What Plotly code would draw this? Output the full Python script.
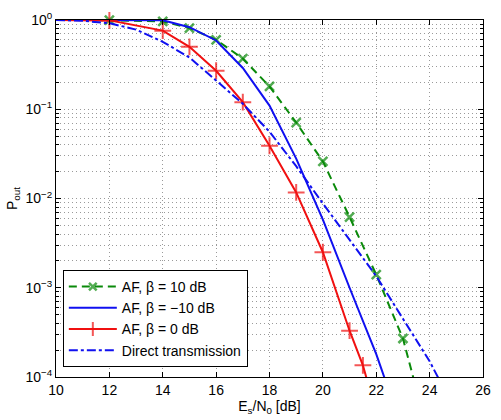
import plotly.graph_objects as go

# ---- data ----
x_af = [10, 12, 14, 15, 16, 17, 18, 19, 20, 21, 22, 23, 24]
p_af_b10 = [1.0, 0.995, 0.965, 0.81, 0.60, 0.37, 0.18, 0.071, 0.026, 0.0062, 0.0014, 2.7e-4, 2.0e-5]
p_af_bm10 = [1.0, 1.0, 0.995, 0.83, 0.59, 0.29, 0.11, 0.028, 0.0058, 0.001, 1.8e-4, 2.5e-5, 3e-6]

x_af0 = [10, 12, 14, 15, 16, 17, 18, 19, 20, 21, 21.5, 22]
p_af_b0 = [1.0, 0.99, 0.76, 0.50, 0.27, 0.12, 0.039, 0.0117, 0.0025, 3.3e-4, 1.35e-4, 4e-5]

x_direct = [10, 11, 12, 13, 14, 15, 16, 17, 18, 19, 20, 21, 22, 23, 24, 25]
p_direct = [1.0, 0.98, 0.92, 0.78, 0.57, 0.38, 0.21, 0.115, 0.056, 0.023, 0.0088,
            0.0035, 0.00135, 4.5e-4, 1.5e-4, 4e-5]

x_ticks = [10, 12, 14, 16, 18, 20, 22, 24, 26]
y_ticks = [1e-4, 1e-3, 1e-2, 1e-1, 1]
y_ticktext = ["10<sup>−4</sup>", "10<sup>−3</sup>", "10<sup>−2</sup>", "10<sup>−1</sup>", "10<sup>0</sup>"]
y_minor = [m * 10 ** e for e in (-4, -3, -2, -1) for m in range(2, 10)]

GREEN = "#0a8a0a"
BLUE = "#1010f0"
RED = "#f01010"
FONT = "Liberation Sans, Arial, Helvetica, sans-serif"
GRIDC = "#9a9a9a"


def marker_sizes(xs, ys, size):
    # no marker at the left edge point or below the visible range
    return [0 if (x == 10 or y < 1e-4) else size for x, y in zip(xs, ys)]


fig = go.Figure()
fig.add_trace(go.Scatter(
    x=x_af, y=p_af_b10, name="AF, β = 10 dB", mode="lines+markers",
    line=dict(color=GREEN, width=2, dash="8px,5px"),
    marker=dict(symbol="x-thin", size=marker_sizes(x_af, p_af_b10, 9),
                line=dict(color=GREEN, width=2.5), color=GREEN),
    cliponaxis=False,
))
fig.add_trace(go.Scatter(
    x=x_af, y=p_af_bm10, name="AF, β = −10 dB", mode="lines",
    line=dict(color=BLUE, width=2),
))
fig.add_trace(go.Scatter(
    x=x_af0, y=p_af_b0, name="AF, β = 0 dB", mode="lines+markers",
    line=dict(color=RED, width=2),
    marker=dict(symbol="cross-thin", size=marker_sizes(x_af0, p_af_b0, 12),
                line=dict(color=RED, width=2), color=RED),
    cliponaxis=False,
))
fig.add_trace(go.Scatter(
    x=x_direct, y=p_direct, name="Direct transmission", mode="lines",
    line=dict(color=BLUE, width=2, dash="dashdot"),
))

grid = dict(showgrid=True, gridcolor=GRIDC, griddash="1px,3px", gridwidth=1)

fig.update_layout(
    width=501, height=420,
    margin=dict(l=56, r=10, t=15, b=43),
    paper_bgcolor="white", plot_bgcolor="white",
    font=dict(family=FONT, size=14, color="black"),
    showlegend=True,
    legend=dict(
        x=0.016, y=0.028, xanchor="left", yanchor="bottom",
        bgcolor="white", bordercolor="black", borderwidth=1,
        font=dict(size=14), tracegroupgap=0, itemwidth=48,
    ),
    xaxis=dict(
        range=[10, 26], tickmode="array", tickvals=x_ticks,
        ticks="inside", ticklen=5, tickcolor="black",
        showline=True, linecolor="black", linewidth=1, mirror="ticks",
        zeroline=False, **grid,
        title=dict(text="E<sub>s</sub>/N<sub>0</sub> [dB]", standoff=2, font=dict(size=14)),
    ),
    yaxis=dict(
        type="log", range=[-4, 0], tickmode="array", tickvals=y_ticks, ticktext=y_ticktext,
        ticks="inside", ticklen=5, tickcolor="black",
        showline=True, linecolor="black", linewidth=1, mirror="ticks",
        zeroline=False, **grid,
        minor=dict(tickmode="array", tickvals=y_minor, ticks="inside", ticklen=3,
                   tickcolor="black", showgrid=True, gridcolor=GRIDC,
                   griddash="1px,3px", gridwidth=1),
        title=dict(text="P<sub>out</sub>", standoff=4, font=dict(size=14)),
    ),
)

fig.write_html("out.html")
